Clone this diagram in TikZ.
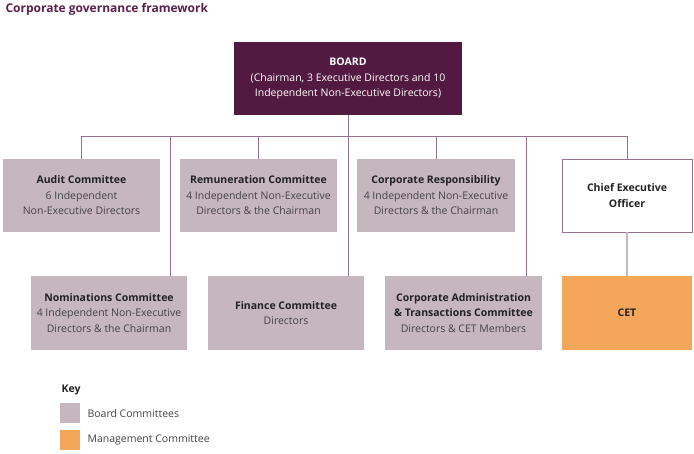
\documentclass[tikz,border=0pt]{standalone}
\usepackage{fontspec}
\setmainfont{Open Sans}
\definecolor{boardc}{HTML}{531A41}
\definecolor{commc}{HTML}{C6B6BE}
\definecolor{cetc}{HTML}{F4A75A}
\definecolor{linec}{HTML}{98708C}
\definecolor{lightline}{HTML}{C9B6C4}
\definecolor{titlec}{HTML}{5A1F4C}
\definecolor{bodyc}{HTML}{444444}
\definecolor{headc}{HTML}{222222}
\begin{document}
\begin{tikzpicture}[x=1pt,y=-1pt,
  box/.style={minimum height=73pt,inner sep=0pt,align=center,font=\fontsize{10.5}{15.5}\selectfont,text=bodyc},
  commbox/.style={box,fill=commc},
  conn/.style={draw=linec,line width=0.9pt},
  lconn/.style={draw=lightline,line width=2pt}]
\useasboundingbox (0,0) rectangle (694,453);
\node[anchor=west,font=\fontsize{12}{14}\selectfont\bfseries,text=titlec] (title) at (2,9.5) {Corporate governance framework};
\node[box,fill=boardc,text=white,minimum width=228pt] (board) at (348,78.5)
  {\textbf{BOARD}\\(Chairman, 3 Executive Directors and 10\\Independent Non-Executive Directors)};
\node[commbox,minimum width=157pt] (audit) at (81.5,195.5)
  {\textcolor{headc}{\textbf{Audit Committee}}\\6 Independent\\Non-Executive Directors};
\node[commbox,minimum width=157pt] (remun) at (258.5,195.5)
  {\textcolor{headc}{\textbf{Remuneration Committee}}\\4 Independent Non-Executive\\Directors \& the Chairman};
\node[commbox,minimum width=158pt] (corpresp) at (436,195.5)
  {\textcolor{headc}{\textbf{Corporate Responsibility}}\\4 Independent Non-Executive\\Directors \& the Chairman};
\node[box,draw=linec,line width=0.9pt,fill=white,minimum width=130pt,text=headc] (ceo) at (627,195.5)
  {\textbf{Chief Executive}\\\textbf{Officer}};
\node[commbox,minimum width=156pt,minimum height=74pt] (nom) at (109,313)
  {\textcolor{headc}{\textbf{Nominations Committee}}\\4 Independent Non-Executive\\Directors \& the Chairman};
\node[commbox,minimum width=156pt,minimum height=74pt] (fin) at (286,313)
  {\textcolor{headc}{\textbf{Finance Committee}}\\Directors};
\node[commbox,minimum width=157pt,minimum height=74pt] (admin) at (463.5,313)
  {\textcolor{headc}{\textbf{Corporate Administration}}\\\textcolor{headc}{\textbf{\& Transactions Committee}}\\Directors \& CET Members};
\node[box,fill=cetc,minimum width=130pt,minimum height=74pt,text=headc] (cet) at (627,313) {\textbf{CET}};
% connectors
\draw[conn] (audit.north) |- ([yshift=22pt]ceo.north) -- (ceo.north);
\draw[conn] (remun.north) -- ++(0,-22);
\draw[conn] (corpresp.north) -- ++(0,-22);
\draw[conn] (board.south) -- (board.south |- fin.north);
\draw[conn] ([xshift=61pt]nom.north) -- ++(0,-139);
\draw[conn] ([xshift=62.5pt]admin.north) -- ++(0,-139);
\draw[lconn] (ceo.south) -- (cet.north);
% key
\node[anchor=west,font=\fontsize{10.5}{13}\selectfont\bfseries,text=headc] (key) at (58,390) {Key};
\node[fill=commc,minimum size=20pt,inner sep=0pt] (k1) at (70,413) {};
\node[fill=cetc,minimum size=20pt,inner sep=0pt] (k2) at (70,440) {};
\node[anchor=west,font=\fontsize{10.5}{13}\selectfont,text=bodyc] (k1t) at (84,414) {Board Committees};
\node[anchor=west,font=\fontsize{10.5}{13}\selectfont,text=bodyc] (k2t) at (84,440) {Management Committee};
\end{tikzpicture}
\end{document}
